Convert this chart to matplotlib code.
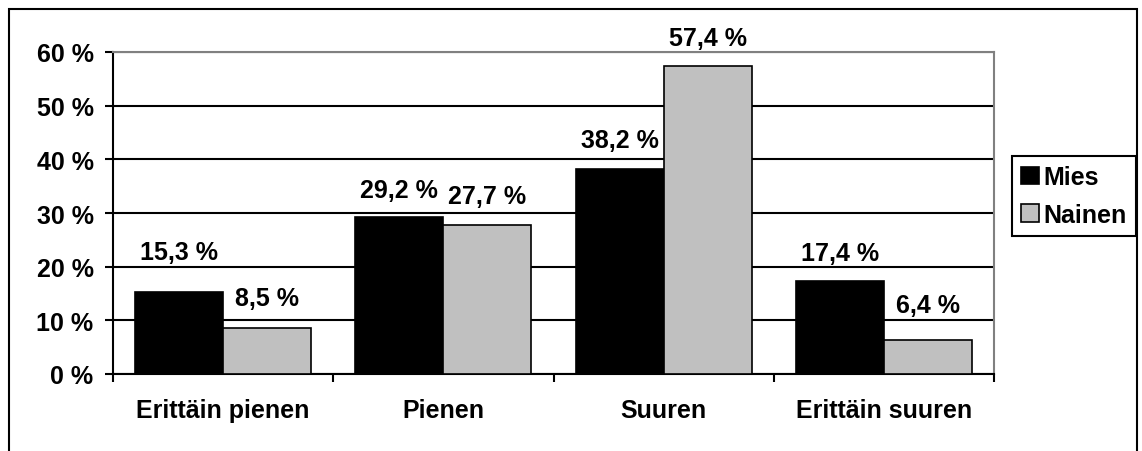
import numpy as np
import matplotlib
matplotlib.use("Agg")
import matplotlib.pyplot as plt
from matplotlib.patches import Patch, Rectangle

categories = ["Erittäin pienen", "Pienen", "Suuren", "Erittäin suuren"]
series_names = ["Mies", "Nainen"]
mies = [15.3, 29.2, 38.2, 17.4]
nainen = [8.5, 27.7, 57.4, 6.4]
y_ticks = [0, 10, 20, 30, 40, 50, 60]

# label centre distance above bar top, in pixels (labels were hand-placed)
mies_label_gap = [40, 27, 29, 28]
nainen_label_gap = [30, 29, 28, 35]

DPI = 100
W, H = 1142, 452
FONT = "Liberation Sans"
FS = 18

plt.rcParams["font.family"] = [FONT, "DejaVu Sans"]
plt.rcParams["font.weight"] = "bold"

fig = plt.figure(figsize=(W / DPI, H / DPI), dpi=DPI)
ax = fig.add_axes([113 / W, 1 - 375 / H, (994 - 113) / W, (375 - 53) / H])

x = np.arange(len(categories))
bw = 0.4
b1 = ax.bar(x - bw / 2, mies, bw, color="black", edgecolor="black", linewidth=1.2, zorder=3)
b2 = ax.bar(x + bw / 2, nainen, bw, color="#c0c0c0", edgecolor="black", linewidth=1.2, zorder=3)

px2pt = 72 / DPI
for bars, vals, gaps in [(b1, mies, mies_label_gap), (b2, nainen, nainen_label_gap)]:
    for bar, v, g in zip(bars, vals, gaps):
        ax.annotate(f"{v:.1f} %".replace(".", ","),
                    (bar.get_x() + bar.get_width() / 2, v),
                    xytext=(0, g * px2pt), textcoords="offset points",
                    ha="center", va="center", fontsize=FS, fontweight="bold")

ax.set_xlim(-0.5, len(categories) - 0.5)
ax.set_ylim(0, 60)
ax.set_yticks(y_ticks)
ax.set_yticklabels([f"{t} %" for t in y_ticks])
ax.yaxis.grid(True, color="black", linewidth=1.5, zorder=0)
ax.set_axisbelow(True)

ax.set_xticks(np.arange(-0.5, len(categories), 1.0))
ax.set_xticklabels([])
ax.set_xticks(x, minor=True)
ax.set_xticklabels(categories, minor=True)
ax.tick_params(axis="x", which="major", length=6, width=1.5, direction="out", color="black")
ax.tick_params(axis="x", which="minor", length=0, pad=17, labelsize=FS)
ax.tick_params(axis="y", length=6, width=1.5, direction="out", pad=8, labelsize=FS)
for lab in ax.get_xticklabels(minor=True) + ax.get_yticklabels():
    lab.set_fontweight("bold")

for side in ["left", "bottom"]:
    ax.spines[side].set_color("black")
    ax.spines[side].set_linewidth(1.5)
for side in ["top", "right"]:
    ax.spines[side].set_color("#808080")
    ax.spines[side].set_linewidth(1.5)

handles = [Patch(facecolor="black", edgecolor="black", linewidth=1.2),
           Patch(facecolor="#c0c0c0", edgecolor="black", linewidth=1.2)]
leg = fig.legend(handles, series_names, loc="center",
                 bbox_to_anchor=(1074 / W, 1 - 197 / H),
                 frameon=True, fancybox=False, framealpha=1,
                 handlelength=0.7, handleheight=0.7, handletextpad=0.2,
                 borderpad=0.35, labelspacing=0.55, borderaxespad=0,
                 prop={"family": FONT, "weight": "bold", "size": FS})
leg.get_frame().set_edgecolor("black")
leg.get_frame().set_linewidth(1.5)

fig.patches.append(Rectangle((9 / W, -0.02), (1137 - 9) / W, 1 - 10 / H + 0.02,
                             transform=fig.transFigure, fill=False,
                             edgecolor="black", linewidth=1.5))

fig.savefig("out.png", dpi=DPI)
